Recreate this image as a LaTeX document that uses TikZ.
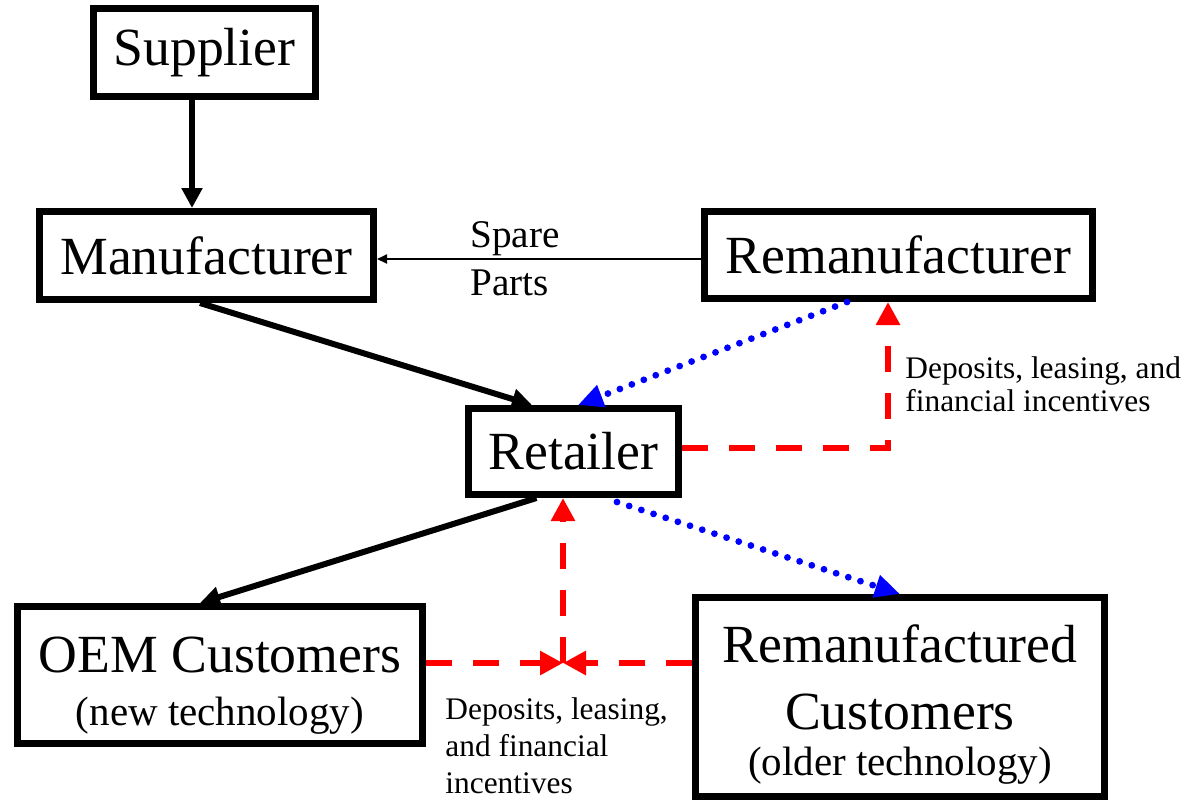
\documentclass[tikz,border=0pt]{standalone}
\usepackage{fontspec}
\setmainfont{Liberation Serif}
\usepackage{xcolor}
\usepackage{tikz}
\usetikzlibrary{arrows.meta,calc}
\definecolor{cashred}{HTML}{FF0000}
\definecolor{flowblue}{HTML}{0000FF}
\newcommand{\boxfont}{\fontsize{26.85}{33.5}\selectfont}
\newcommand{\subfont}{\fontsize{20.5}{24}\selectfont}
\newcommand{\lblfont}{\fontsize{19.6}{24}\selectfont}
\newcommand{\notesize}{\fontsize{15.7}{16.5}\selectfont}
\newcommand{\notesizeloose}{\fontsize{15.7}{18.5}\selectfont}
\tikzset{
  block/.style={draw,line width=3.5pt,inner sep=0pt,align=center,font=\boxfont},
  flow/.style={line width=3pt,-{Triangle[length=10pt,width=10pt]}},
  spare/.style={line width=1pt,-{Triangle[length=5pt,width=4.5pt]}},
  incentive/.style={cashred,line width=3pt,dash pattern=on 13pt off 10.5pt,-{Triangle[length=11.5pt,width=11.5pt]}},
  recycled/.style={flowblue,line width=3.4pt,line cap=round,dash pattern=on 0pt off 6.4pt,-{Triangle[length=12.5pt,width=11pt]}},
}

\begin{document}
\begin{tikzpicture}[x=0.5pt,y=-0.5pt]
\useasboundingbox (0,0) rectangle (1186,799);
\node[block,minimum width=111pt,minimum height=44pt] (sup) at (204.5,52.5) {Supplier};
\node[block,minimum width=167pt,minimum height=44pt] (man) at (206.5,255.5) {Manufacturer};
\node[block,minimum width=194pt,minimum height=43.5pt] (rem) at (898.5,255) {Remanufacturer};
\node[block,minimum width=105pt,minimum height=43pt] (ret) at (573.5,451.5) {Retailer};
\node[block,minimum width=202.5pt,minimum height=68.5pt] (oem) at (220,675) {\rule{0pt}{28.5pt}OEM Customers\\[-7pt]{\subfont (new technology)}};
\node[block,minimum width=204.5pt,minimum height=99.5pt] (rcu) at (900,697) {\rule{0pt}{26.3pt}Remanufactured\\Customers\\[-10.5pt]{\subfont (older technology)}};
% material and product flows
\draw[flow] ($(sup.south)+(-12.5,0)$) -- ($(man.north)+(-14.5,0)$);
\draw[flow] ($(man.south)+(-6.5,0)$) -- ($(ret.north)+(-41.5,0)$);
\draw[flow] ($(ret.south)+(-37,0)$) -- ($(oem.north)+(-20,0)$);
\draw[spare] ($(rem.west)+(0,4)$) -- ($(man.east)+(0,3.5)$);
\node[font=\lblfont,align=left,anchor=west,inner sep=0pt] (spl) at (470,259) {Spare\\Parts};
\draw[recycled] ($(rem.south)+(-51.5,0)$) -- ($(ret.north)+(4.5,0)$);
\draw[recycled] ($(ret.south)+(43.5,4)$) -- (rcu.north);
% take-back incentives
\draw[incentive] ($(ret.east)+(0,-3.5)$) -| ($(rem.south)+(-10.5,0)$);
\node[font=\notesize,align=left,anchor=north west,inner sep=0pt] (dep1) at (905,356) {Deposits, leasing, and\\financial incentives};
\coordinate (mix) at (563,663);
\draw[incentive] ($(oem.east)+(0,-12)$) -- (mix);
\draw[incentive] ($(rcu.west)+(0,-34)$) -- (mix);
\draw[incentive] (mix) -- ($(ret.south)+(-10.5,0)$);
\node[font=\notesizeloose,align=left,anchor=north west,inner sep=0pt] (dep2) at (445,697) {Deposits, leasing,\\and financial\\incentives};
\end{tikzpicture}
\end{document}
